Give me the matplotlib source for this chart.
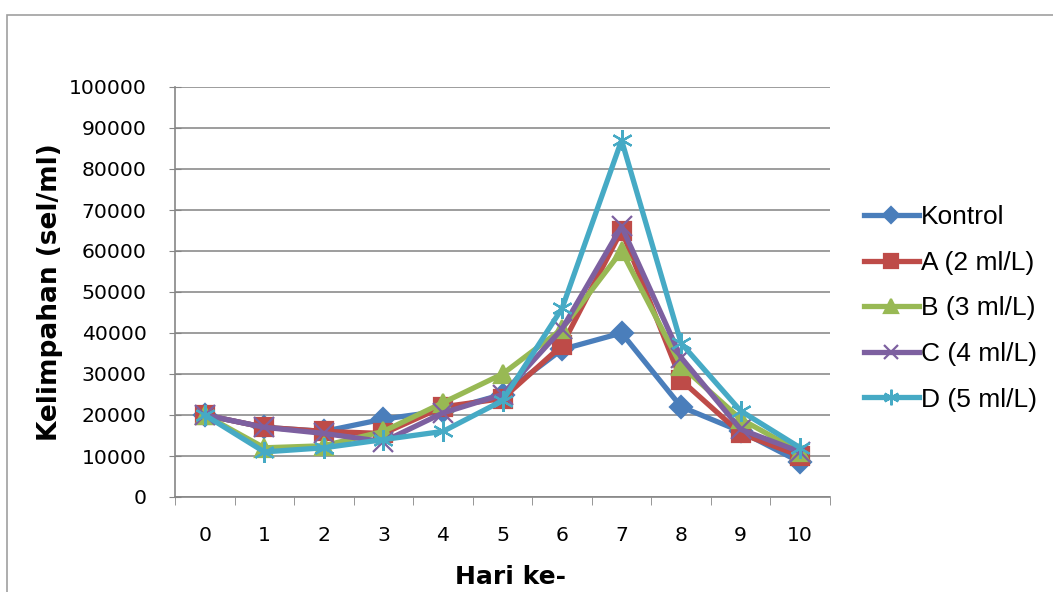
import numpy as np
import matplotlib
matplotlib.use("Agg")
import matplotlib.pyplot as plt
from matplotlib.patches import Rectangle

hari = list(range(11))
kontrol = [20000, 17000, 16000, 19000, 21000, 25000, 36000, 40000, 22000, 16000, 8500]
a_2 = [20000, 17000, 16000, 15500, 22000, 24000, 37000, 65000, 28500, 15500, 10000]
b_3 = [20000, 12000, 12500, 16000, 23000, 30000, 41000, 60000, 32000, 19000, 11000]
c_4 = [20000, 17000, 15500, 13500, 20500, 25000, 41000, 66000, 34000, 16500, 11000]
d_5 = [20000, 11000, 12000, 14000, 16000, 23500, 46000, 87000, 37500, 21000, 12000]

labels = ["Kontrol", "A (2 ml/L)", "B (3 ml/L)", "C (4 ml/L)", "D (5 ml/L)"]
colors = ["#4A7EBB", "#BE4B48", "#98B954", "#7D60A0", "#46AAC5"]
markers = ["D", "s", "^", "x", (6, 2, 0)]
msizes = [11, 13, 13, 14, 15]
series = [kontrol, a_2, b_3, c_4, d_5]

plt.rcParams['font.family'] = ['DejaVu Sans']

fig = plt.figure(figsize=(10.53, 5.92), dpi=100)
ax = fig.add_axes([175/1053, 1 - 497/592, 655/1053, 410/592])

# bingkai luar chart
fig.patches.append(Rectangle((7/1053, -0.1), 1.2, 1 - 15/592 + 0.1,
                             transform=fig.transFigure, fill=False,
                             edgecolor="#A0A0A0", linewidth=1.2))

for y, lab, col, m, ms in zip(series, labels, colors, markers, msizes):
    ax.plot(hari, y, color=col, linewidth=3.8, marker=m, markersize=ms,
            markeredgewidth=1.6, markeredgecolor=col, label=lab)

ax.set_xlim(-0.5, 10.5)
ax.set_ylim(0, 100000)
ax.set_yticks(np.arange(0, 100001, 10000))
ax.set_xticks(hari)
ax.set_xticks(np.arange(-0.5, 10.6, 1), minor=True)
ax.tick_params(axis='x', which='major', length=0, pad=21, labelsize=14.7)
ax.tick_params(axis='x', which='minor', length=6, color="#868686")
ax.tick_params(axis='y', direction='inout', length=9, color="#868686", labelsize=14.7, pad=16)
ax.grid(axis='y', color="#8C8C8C", linewidth=1.2)
ax.set_axisbelow(True)
for s in ["top", "right"]:
    ax.spines[s].set_visible(False)
for s in ["left", "bottom"]:
    ax.spines[s].set_color("#868686")
    ax.spines[s].set_linewidth(1.2)

ax.set_xlabel("Hari ke-", fontsize=18, fontweight="bold")
ax.xaxis.set_label_coords((511 - 175) / 655, -(589 - 497) / 410)
ax.xaxis.label.set_va("bottom")
ax.set_ylabel("Kelimpahan (sel/ml)", fontsize=19, fontweight="bold", labelpad=4)

leg = ax.legend(loc="center left", bbox_to_anchor=(1.015, 0.46), frameon=False,
                prop={'family': 'Liberation Sans', 'size': 19},
                handlelength=2.1, labelspacing=0.82, handletextpad=0.08, markerscale=0.75)

fig.savefig("out.png", dpi=100)
